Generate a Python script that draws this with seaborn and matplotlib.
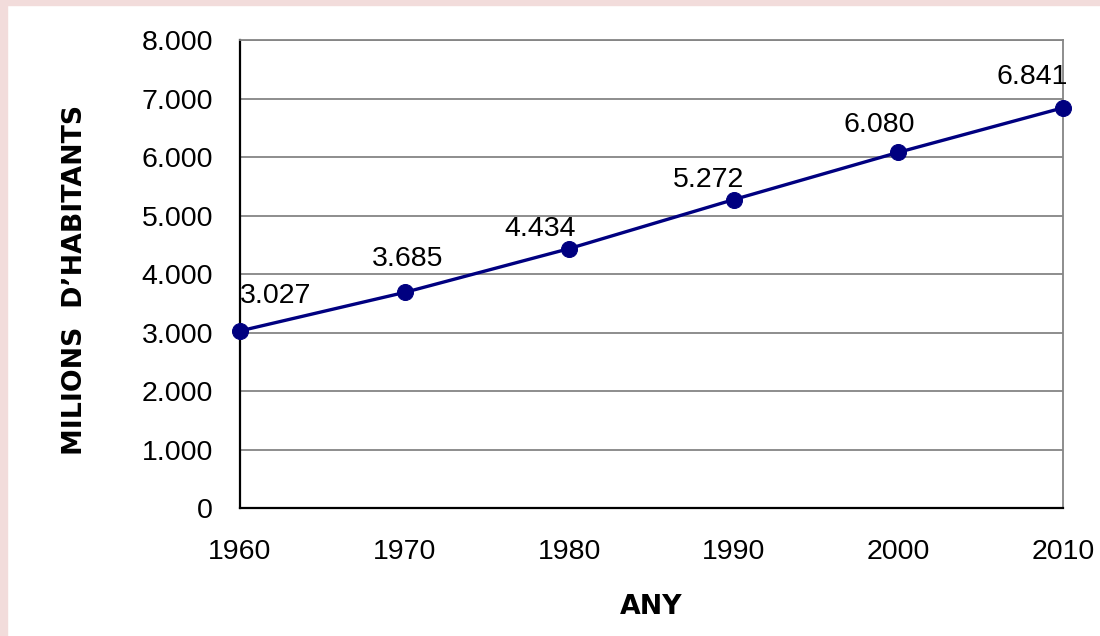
import matplotlib
matplotlib.use("Agg")
import matplotlib.pyplot as plt
from matplotlib.patches import Rectangle
import seaborn as sns
import pandas as pd

# ---- data ----
years = [1960, 1970, 1980, 1990, 2000, 2010]
population = [3027, 3685, 4434, 5272, 6080, 6841]  # milions d'habitants
y_ticks = [0, 1000, 2000, 3000, 4000, 5000, 6000, 7000, 8000]
x_ticks = [1960, 1970, 1980, 1990, 2000, 2010]
x_label = "ANY"
y_label = "MILIONS  D\u2019HABITANTS"

# label offsets (pixels) relative to each point -- layout only
label_offsets = [(36, 35), (3, 33), (-29, 20), (-25, 20), (-19, 27), (-31, 31)]

def fmt(v):
    return f"{v:,}".replace(",", ".")

sns.set_style("white")
plt.rcParams["font.family"] = ["Liberation Sans", "DejaVu Sans"]
plt.rcParams["text.color"] = "black"
plt.rcParams["axes.labelcolor"] = "black"

W, H = 1100, 636
fig = plt.figure(figsize=(W / 100, H / 100), dpi=100)
fig.patch.set_facecolor("white")
pink = "#F2DCDB"
fig.patches.append(Rectangle((0, 0), 7 / W, 1, transform=fig.transFigure, color=pink, zorder=0))
fig.patches.append(Rectangle((0, 1 - 5 / H), 1, 5 / H, transform=fig.transFigure, color=pink, zorder=0))

ax = fig.add_axes([240 / W, 1 - 508 / H, 823 / W, 468 / H])
ax.set_facecolor("white")

df = pd.DataFrame({"year": years, "pop": population})
sns.lineplot(data=df, x="year", y="pop", ax=ax, color="#000080", linewidth=2.4,
             marker="o", markersize=11.5, markeredgecolor="#000080", markerfacecolor="#000080",
             zorder=5)
for ln in ax.lines:
    ln.set_clip_on(False)

ax.set_xlim(1960, 2010)
ax.set_ylim(0, 8000)
ax.set_xticks(x_ticks)
ax.set_xticklabels([str(x) for x in x_ticks])
ax.set_yticks(y_ticks)
ax.set_yticklabels([fmt(v) for v in y_ticks])

ax.yaxis.grid(True, color="#858585", linewidth=1.3)
ax.xaxis.grid(False)
ax.set_axisbelow(True)

for side in ["top", "right"]:
    ax.spines[side].set_color("#858585")
    ax.spines[side].set_linewidth(1.3)
for side in ["left", "bottom"]:
    ax.spines[side].set_color("black")
    ax.spines[side].set_linewidth(1.6)

ax.tick_params(axis="both", direction="out", length=7, width=1.6, color="black",
               labelsize=20.5, labelcolor="black")
ax.tick_params(axis="y", pad=12.5)
ax.tick_params(axis="x", pad=15.5)

lab_font = dict(family=["DejaVu Sans"], fontweight="bold", fontsize=19.3, color="black")
ax.set_xlabel(x_label, **lab_font)
ax.xaxis.label.set_va("center")
ax.xaxis.set_label_coords(0.5, (508 - 607) / 468)
ax.set_ylabel(y_label, **lab_font)
ax.yaxis.label.set_va("center")
ax.yaxis.label.set_ha("center")
ax.yaxis.set_label_coords((75 - 240) / 823, (508 - 280) / 468)

for x, y, (dx, dy) in zip(years, population, label_offsets):
    ax.annotate(fmt(y), (x, y), xytext=(dx, dy), textcoords="offset pixels",
                ha="center", va="center", fontsize=20.5, color="black", zorder=6)

fig.savefig("out.png", dpi=100)
